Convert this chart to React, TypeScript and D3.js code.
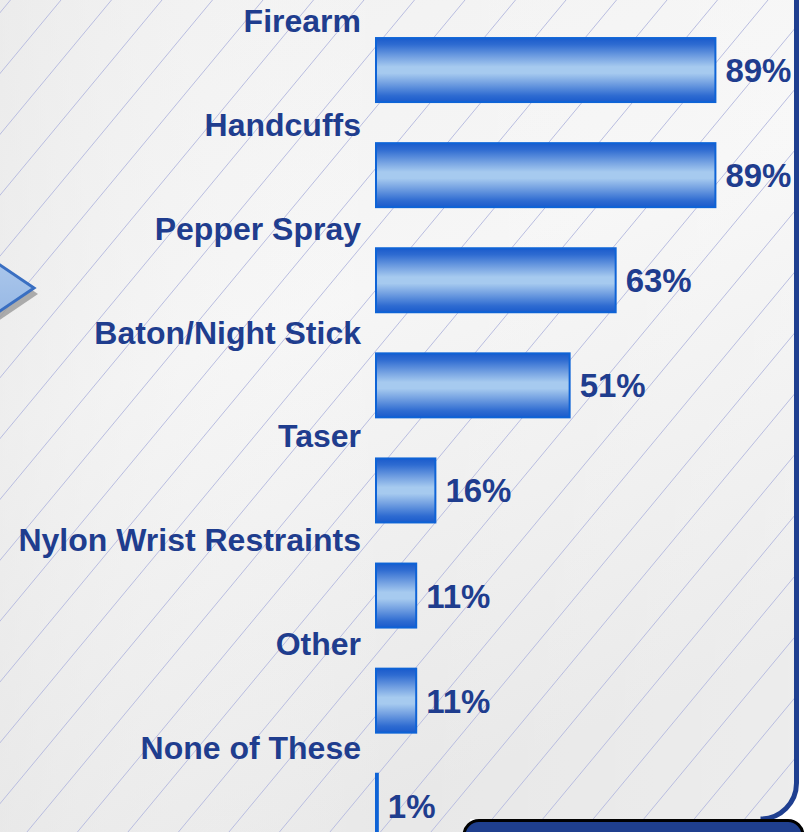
import React from "react";
import * as d3 from "d3";

const categories = [
  "Firearm",
  "Handcuffs",
  "Pepper Spray",
  "Baton/Night Stick",
  "Taser",
  "Nylon Wrist Restraints",
  "Other",
  "None of These",
];
const values = [89, 89, 63, 51, 16, 11, 11, 1];
const valueLabels = ["89%", "89%", "63%", "51%", "16%", "11%", "11%", "1%"];

const W = 809;
const H = 832;
const NAVY = "#1f3d8e";
const FONT = "'Liberation Sans', Arial, Helvetica, sans-serif";

export default function App() {
  const x = d3.scaleLinear().domain([0, 100]).range([375, 375 + 383.6]);
  const yBar = d3
    .scaleBand<string>()
    .domain(categories)
    .range([37 - 19.5, 37 - 19.5 + 8 * 105.1])
    .paddingInner(0.372)
    .paddingOuter(0.186);
  const yLabel = d3.scalePoint<string>().domain(categories).range([32, 759]);

  const hatchXs = d3.range(-40, 1500, 50.5);
  const slope = 0.83;

  const panelPath = "M0,0 H796.5 V783 A36,36 0 0 1 760.5,819 H470 V845 H0 Z";

  return (
    <svg
      width={W}
      height={H}
      style={{ position: "absolute", left: 0, top: 0, display: "block" }}
      xmlns="http://www.w3.org/2000/svg"
    >
      <defs>
        <linearGradient id="bg" x1="0" y1="0" x2="0.35" y2="1">
          <stop offset="0" stopColor="#f1f1f1" />
          <stop offset="0.45" stopColor="#f6f6f6" />
          <stop offset="1" stopColor="#e8e8e8" />
        </linearGradient>
        <linearGradient id="bgl" x1="0" y1="0" x2="1" y2="0">
          <stop offset="0" stopColor="#e6e6e6" stopOpacity="0.5" />
          <stop offset="0.5" stopColor="#ffffff" stopOpacity="0" />
          <stop offset="1" stopColor="#ffffff" stopOpacity="0.2" />
        </linearGradient>
        <linearGradient id="barg" x1="0" y1="0" x2="0" y2="1">
          <stop offset="0" stopColor="#1a5bcc" />
          <stop offset="0.1" stopColor="#2e6bd1" />
          <stop offset="0.3" stopColor="#75a2e2" />
          <stop offset="0.45" stopColor="#a6caef" />
          <stop offset="0.55" stopColor="#a6caef" />
          <stop offset="0.7" stopColor="#75a2e2" />
          <stop offset="0.9" stopColor="#2e6bd1" />
          <stop offset="1" stopColor="#1a5bcc" />
        </linearGradient>
        <linearGradient id="arrowg" x1="0" y1="0" x2="0" y2="1">
          <stop offset="0" stopColor="#b3cdee" />
          <stop offset="1" stopColor="#8fb2e2" />
        </linearGradient>
        <clipPath id="panelClip">
          <path d={panelPath} />
        </clipPath>
      </defs>

      <rect x={0} y={0} width={W} height={H} fill="#ffffff" />
      <path d={panelPath} fill="url(#bg)" />
      <path d={panelPath} fill="url(#bgl)" />

      <g clipPath="url(#panelClip)">
        {hatchXs.map((hx, i) => (
          <line
            key={i}
            x1={hx}
            y1={0}
            x2={hx - slope * 900}
            y2={900}
            stroke="#b9bde0"
            strokeWidth={1}
          />
        ))}
      </g>

      {/* left arrow */}
      <polygon points="-36,244 38,294 -36,344" fill="#9a9a9a" opacity={0.8} />
      <polygon
        points="-40,238 34,288 -40,338"
        fill="url(#arrowg)"
        stroke="#3a6fc2"
        strokeWidth={3}
        strokeLinejoin="miter"
      />

      {/* bars */}
      {categories.map((c, i) => {
        const y0 = yBar(c) as number;
        const bh = yBar.bandwidth();
        const x0 = x(0);
        const x1 = x(values[i]);
        return (
          <g key={c}>
            <rect
              x={x0 + 1}
              y={y0 + 1}
              width={Math.max(x1 - x0 - 2, 1)}
              height={bh - 2}
              fill="url(#barg)"
              stroke="#0e63d6"
              strokeWidth={2}
            />
            <text
              x={x1 + 9}
              y={y0 + bh / 2 + 12}
              fill={NAVY}
              fontFamily={FONT}
              fontWeight="bold"
              fontSize={33}
            >
              {valueLabels[i]}
            </text>
            <text
              x={361}
              y={yLabel(c) as number}
              textAnchor="end"
              fill={NAVY}
              fontFamily={FONT}
              fontWeight="bold"
              fontSize={32}
            >
              {c}
            </text>
          </g>
        );
      })}

      {/* right border */}
      <path
        d="M796.5,-5 V783 A36,36 0 0 1 760.5,819"
        fill="none"
        stroke="#1f3f90"
        strokeWidth={5}
      />

      {/* bottom dark box */}
      <rect
        x={464}
        y={820.5}
        width={339}
        height={40}
        rx={15}
        ry={15}
        fill="#1f3f8e"
        stroke="#000000"
        strokeWidth={3}
      />
    </svg>
  );
}
